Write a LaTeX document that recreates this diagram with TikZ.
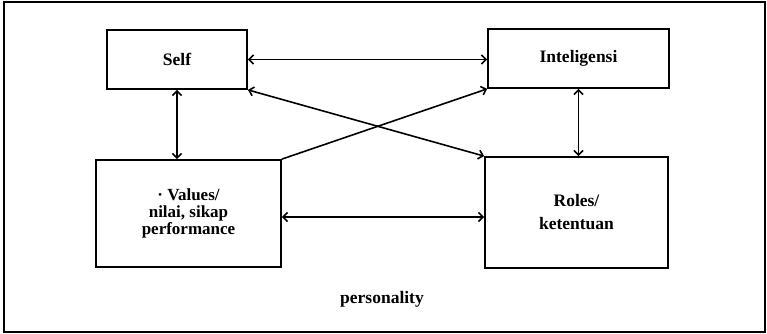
\documentclass[tikz,border=0pt]{standalone}
\usepackage{fontspec}
\setmainfont{Liberation Serif}
\usetikzlibrary{arrows.meta}
\begin{document}
\begin{tikzpicture}[x=1pt,y=-1pt,
  box/.style={draw, line width=1.8pt, rectangle, inner sep=0pt, align=center},
  lbl/.style={font=\bfseries\fontsize{17.5}{18}\selectfont},
  link/.style={line width=1.6pt, {Straight Barb[length=4.5pt,width=9pt]}-{Straight Barb[length=4.5pt,width=9pt]}},
  onelink/.style={line width=1.6pt, -{Straight Barb[length=4.5pt,width=9pt]}},
  frame/.style={draw, line width=1.2pt}
]
\useasboundingbox (0,0) rectangle (767,334);
\draw[frame] (4,2) rectangle (765,332);

\node[box, lbl, minimum width=140pt, minimum height=59pt] (self) at (177,59.5) {Self};
\node[box, lbl, minimum width=181pt, minimum height=59pt] (intel) at (578.5,58.5) {Inteligensi};
\node[box, minimum width=185pt, minimum height=107pt, font=\bfseries\fontsize{17}{17}\selectfont] (values) at (188.5,213.5) {· Values/\\nilai, sikap\\performance};
\node[box, minimum width=183pt, minimum height=111pt, font=\bfseries\fontsize{17.5}{23}\selectfont] (roles) at (576.5,212.5) {Roles/\\ketentuan};
\node[lbl] (pers) at (382,299) {personality};

\draw[link] (self.east) -- (self.east -| intel.west);
\draw[link] (self.south) -- (self.south |- values.north);
\draw[link] (intel.south) -- (intel.south |- roles.north);
\draw[link] ([yshift=-3.5pt]values.east) -- ([yshift=-3.5pt]values.east -| roles.west);
\draw[link] (self.south east) -- (roles.north west);
\draw[onelink] (values.north east) -- (intel.south west);
\end{tikzpicture}
\end{document}
